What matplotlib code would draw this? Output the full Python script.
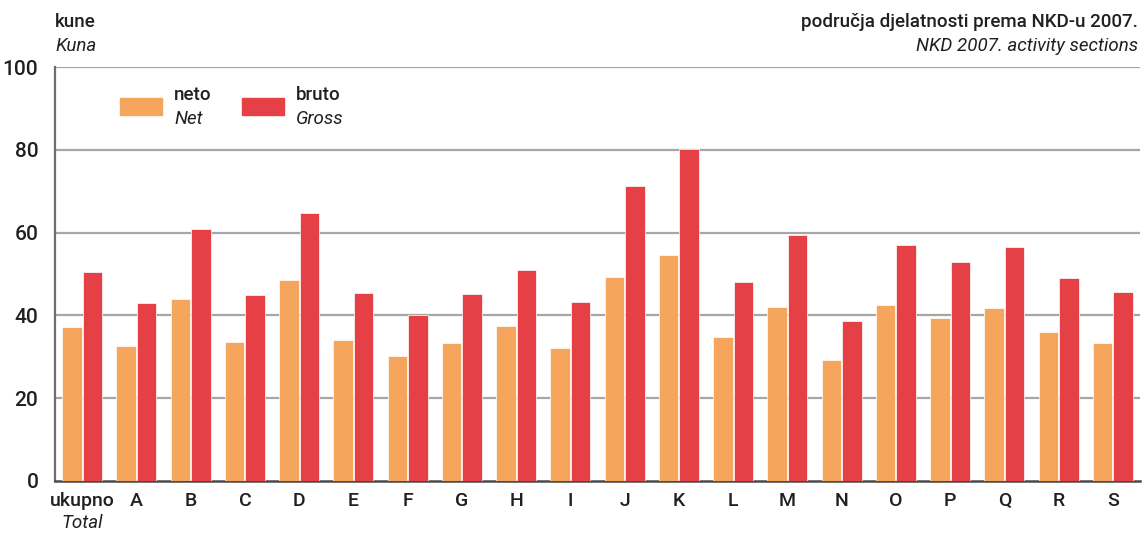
import numpy as np
import matplotlib.pyplot as plt

plt.rcParams['font.family'] = ['Roboto', 'DejaVu Sans']

categories = ['ukupno', 'A', 'B', 'C', 'D', 'E', 'F', 'G', 'H', 'I',
              'J', 'K', 'L', 'M', 'N', 'O', 'P', 'Q', 'R', 'S']
neto = [37.2, 32.6, 44.0, 33.6, 48.6, 34.1, 30.2, 33.3, 37.4, 32.1,
        49.3, 54.6, 34.8, 42.0, 29.2, 42.5, 39.4, 41.8, 36.0, 33.3]
bruto = [50.5, 43.0, 60.9, 44.9, 64.7, 45.4, 40.1, 45.2, 51.0, 43.2,
         71.3, 80.2, 48.1, 59.4, 38.6, 57.0, 52.9, 56.5, 49.0, 45.6]
yticks = [0, 20, 40, 60, 80, 100]

c_neto = '#F6A65C'
c_bruto = '#E54045'
dark = '#231F20'
fs = 13.5
bw = 'medium'   # weight of the upright texts
iw = 'normal'   # weight of the italic texts

fig = plt.figure(figsize=(11.42, 5.34), dpi=100)
ax = fig.add_axes([55/1142, 1 - 481/534, 1085/1142, 414/534])

x = np.arange(len(categories))
w = 0.36
ax.bar(x - 0.19, neto, w, color=c_neto, edgecolor='white', linewidth=0.5, zorder=3)
ax.bar(x + 0.19, bruto, w, color=c_bruto, edgecolor='white', linewidth=0.5, zorder=3)

ax.set_xlim(-0.5, len(categories) - 0.5)
ax.set_ylim(0, 100)
ax.set_yticks(yticks)
ax.set_yticklabels([str(t) for t in yticks], fontsize=fs + 1.5, color=dark, fontweight=bw)
for t in yticks[1:]:
    ax.axhline(t, color='#A6A6A6', linewidth=1.6, zorder=1)

for s in ['top', 'right']:
    ax.spines[s].set_visible(False)
ax.spines['left'].set_color('#6E6E6E')
ax.spines['left'].set_linewidth(1.6)
ax.spines['bottom'].set_color('#4A4A4A')
ax.spines['bottom'].set_linewidth(1.8)
ax.tick_params(axis='y', length=0, pad=12)
ax.tick_params(axis='x', length=0, pad=8)

ax.set_xticks(x)
ax.set_xticklabels(categories, fontsize=fs + 0.5, color=dark, fontweight=bw)
ax.annotate('Total', (0, 0), xycoords=('data', 'axes fraction'),
            xytext=(0, -24), textcoords='offset points',
            ha='center', va='top', fontsize=fs, style='italic', fontweight=iw, color=dark)

## units and heading
fig.text(55/1142, 1 - 22/534, 'kune', fontsize=fs, color=dark, va='center', fontweight=bw)
fig.text(55/1142, 1 - 46/534, 'Kuna', fontsize=fs, style='italic', fontweight=iw,
         color=dark, va='center')
fig.text(1138/1142, 1 - 22/534, 'područja djelatnosti prema NKD-u 2007.',
         fontsize=fs, color=dark, va='center', ha='right', fontweight=bw)
fig.text(1138/1142, 1 - 46/534, 'NKD 2007. activity sections',
         fontsize=fs, style='italic', fontweight=iw, color=dark, va='center', ha='right')

## legend by hand
for lx, col, t1, t2 in [(120, c_neto, 'neto', 'Net'), (242, c_bruto, 'bruto', 'Gross')]:
    fig.patches.append(plt.Rectangle((lx/1142, 1 - 115/534), 42/1142, 17/534,
                                     transform=fig.transFigure, color=col))
    fig.text((lx + 54)/1142, 1 - 95/534, t1, fontsize=fs, color=dark, va='center', fontweight=bw)
    fig.text((lx + 54)/1142, 1 - 119/534, t2, fontsize=fs, style='italic', fontweight=iw,
             color=dark, va='center')

fig.savefig('out.png', dpi=100)
